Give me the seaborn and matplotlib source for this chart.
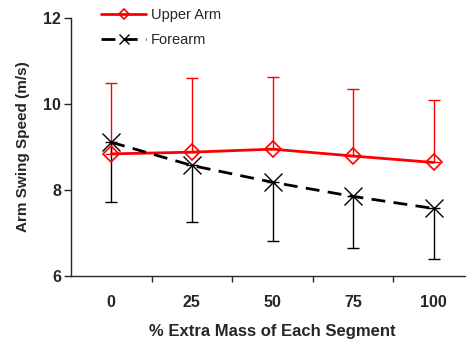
import pandas as pd
import seaborn as sns
import matplotlib.pyplot as plt
import numpy as np

# % extra mass added to each segment
extra_mass = ["0", "25", "50", "75", "100"]

upper_arm_mean = [8.84, 8.88, 8.95, 8.79, 8.64]
upper_arm_sd = [1.64, 1.72, 1.67, 1.55, 1.46]

forearm_mean = [9.11, 8.57, 8.18, 7.85, 7.57]
forearm_sd = [1.40, 1.31, 1.36, 1.20, 1.18]

pos = np.arange(len(extra_mass))
df_upper = pd.DataFrame({"pos": pos, "speed": upper_arm_mean})
df_fore = pd.DataFrame({"pos": pos, "speed": forearm_mean})

sns.set_style("ticks")
plt.rcParams["font.family"] = ["Liberation Sans", "DejaVu Sans"]

fig = plt.figure(figsize=(4.66, 3.43), dpi=100)
ax = fig.add_axes([71 / 466, 1 - 276 / 343, 403 / 466, 258 / 343])

# one sided error bars: upper arm up, forearm down
ax.errorbar(pos, upper_arm_mean, yerr=[np.zeros(5), upper_arm_sd], fmt="none",
            ecolor="red", elinewidth=1, capsize=4, capthick=1, zorder=2)
ax.errorbar(pos, forearm_mean, yerr=[forearm_sd, np.zeros(5)], fmt="none",
            ecolor="black", elinewidth=1, capsize=4, capthick=1, zorder=2)

sns.lineplot(data=df_upper, x="pos", y="speed", ax=ax, color="red", lw=2,
             marker="D", markersize=8.5, markerfacecolor="none",
             markeredgecolor="red", markeredgewidth=1.2, label="Upper Arm", zorder=3)
sns.lineplot(data=df_fore, x="pos", y="speed", ax=ax, color="black", lw=2,
             dashes=(5, 3), marker="x", markersize=13,
             markeredgecolor="black", markeredgewidth=1, label="Forearm", zorder=3)

ax.set_xlim(-0.5, 4.5)
ax.set_ylim(6, 12)
ax.set_yticks([6, 8, 10, 12])
ax.set_xticks(pos + 0.5)
ax.set_xticklabels([])
ax.set_xticks(pos, minor=True)
ax.set_xticklabels(extra_mass, minor=True)
ax.tick_params(axis="x", which="minor", length=0, pad=14)
ax.tick_params(axis="x", which="major", length=4, width=1)
ax.tick_params(axis="y", length=5, width=1, pad=2)
for lab in ax.get_xticklabels(minor=True) + ax.get_yticklabels():
    lab.set_fontweight("bold")
    lab.set_fontsize(11.5)

ax.spines["top"].set_visible(False)
ax.spines["right"].set_visible(False)
ax.spines["left"].set_linewidth(1)
ax.spines["bottom"].set_linewidth(1)

ax.set_xlabel("% Extra Mass of Each Segment", fontsize=12, fontweight="bold", labelpad=10)
ax.set_ylabel("Arm Swing Speed (m/s)", fontsize=11, fontweight="bold", labelpad=10)

ax.legend(loc="upper left", bbox_to_anchor=(101 / 466, 1 - 8 / 343),
          bbox_transform=fig.transFigure, frameon=False, fontsize=10.5,
          handlelength=3.1, handletextpad=0.3, borderpad=0, borderaxespad=0,
          labelspacing=0.75, markerscale=0.55)

fig.savefig("out.png", dpi=100)
